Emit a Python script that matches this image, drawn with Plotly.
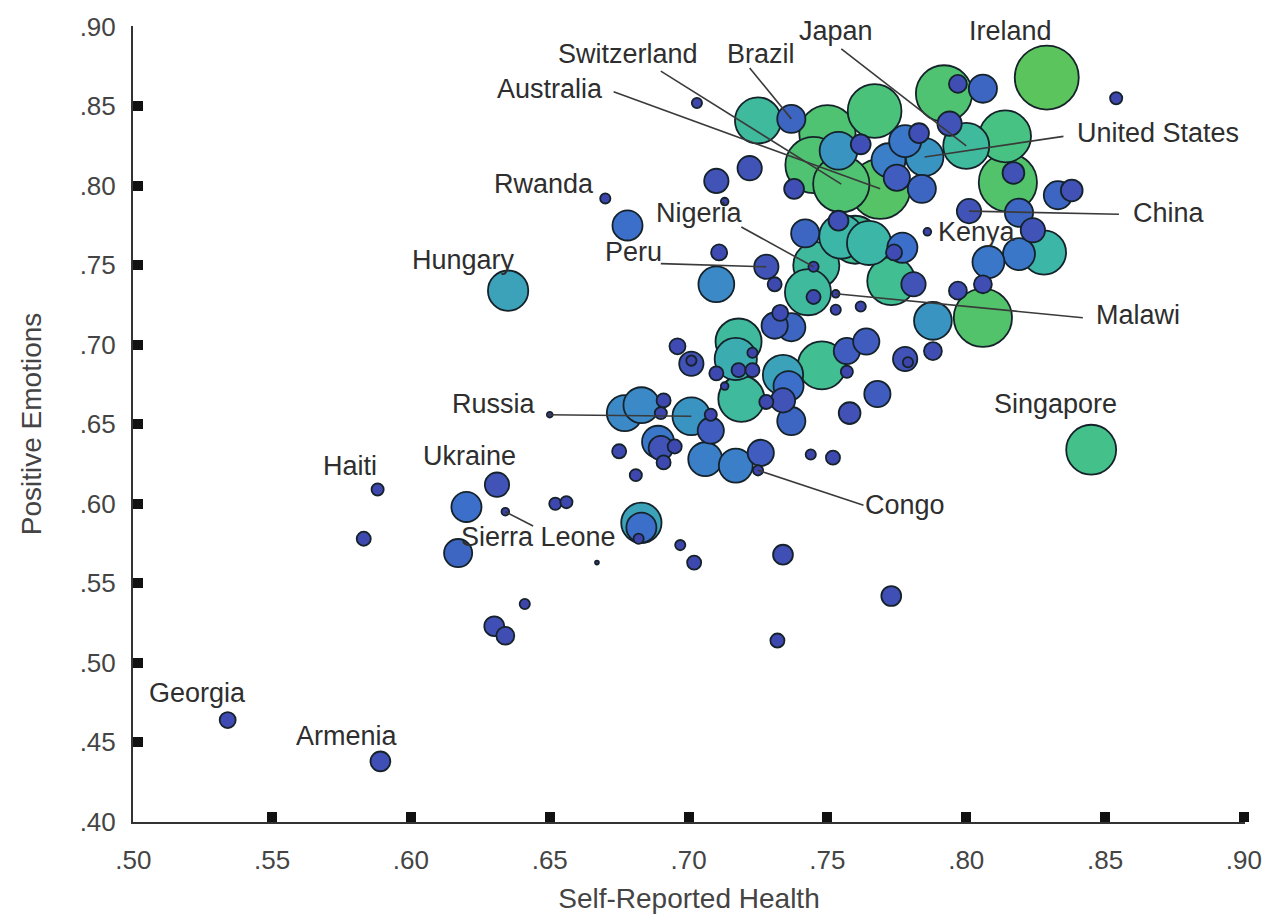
import plotly.graph_objects as go

# ---------------- data ----------------
country = [
    "Georgia", "Armenia", "Haiti", "", "", "", "Ukraine", "Sierra Leone", "", "",
    "", "", "", "", "",
    "", "", "Brazil", "", "", "", "", "", "Switzerland", "Australia",
    "", "", "", "", "", "", "", "", "", "",
    "", "", "Ireland", "", "", "Japan", "", "United States", "", "",
    "", "", "China", "",
    "Rwanda", "", "", "", "Peru", "", "", "", "", "",
    "", "", "Nigeria", "", "", "Malawi", "", "", "", "",
    "", "", "", "", "", "Kenya", "", "", "", "",
    "", "", "", "",
    "", "", "", "", "", "", "", "", "", "",
    "", "", "", "", "", "", "", "", "", "",
    "", "", "", "", "", "", "", "", "", "Russia",
    "", "", "", "", "", "", "", "", "", "",
    "", "Congo", "", "",
    "Singapore", "Hungary", "", "", "", "", "", "", "", "",
]
health = [
    0.534, 0.589, 0.588, 0.583, 0.620, 0.617, 0.631, 0.634, 0.652, 0.656,
    0.641, 0.630, 0.634, 0.667, 0.650,
    0.703, 0.725, 0.737, 0.767, 0.750, 0.754, 0.762, 0.745, 0.755, 0.769,
    0.772, 0.778, 0.783, 0.775, 0.784, 0.722, 0.710, 0.713, 0.738, 0.792,
    0.797, 0.806, 0.829, 0.854, 0.814, 0.800, 0.794, 0.785, 0.815, 0.817,
    0.833, 0.838, 0.801, 0.819,
    0.670, 0.678, 0.711, 0.710, 0.728, 0.731, 0.742, 0.754, 0.755, 0.760,
    0.765, 0.746, 0.745, 0.743, 0.745, 0.753, 0.753, 0.762, 0.733, 0.731,
    0.737, 0.773, 0.774, 0.777, 0.781, 0.786, 0.824, 0.828, 0.819, 0.808,
    0.806, 0.797, 0.788, 0.806,
    0.696, 0.701, 0.701, 0.710, 0.718, 0.717, 0.723, 0.718, 0.723, 0.713,
    0.719, 0.734, 0.736, 0.734, 0.728, 0.737, 0.748, 0.757, 0.764, 0.757,
    0.768, 0.758, 0.778, 0.779, 0.788, 0.677, 0.683, 0.691, 0.690, 0.701,
    0.708, 0.708, 0.689, 0.690, 0.695, 0.691, 0.675, 0.681, 0.706, 0.717,
    0.726, 0.725, 0.744, 0.752,
    0.845, 0.635, 0.683, 0.683, 0.682, 0.697, 0.702, 0.734, 0.773, 0.732,
]
positive = [
    0.464, 0.438, 0.609, 0.578, 0.598, 0.569, 0.612, 0.595, 0.600, 0.601,
    0.537, 0.523, 0.517, 0.563, 0.656,
    0.852, 0.841, 0.842, 0.847, 0.833, 0.822, 0.826, 0.813, 0.801, 0.798,
    0.816, 0.828, 0.833, 0.805, 0.798, 0.811, 0.803, 0.790, 0.798, 0.858,
    0.864, 0.861, 0.868, 0.855, 0.831, 0.825, 0.839, 0.818, 0.802, 0.808,
    0.794, 0.797, 0.784, 0.783,
    0.792, 0.775, 0.758, 0.738, 0.749, 0.738, 0.770, 0.778, 0.768, 0.766,
    0.764, 0.750, 0.749, 0.733, 0.730, 0.732, 0.722, 0.724, 0.720, 0.712,
    0.711, 0.740, 0.758, 0.761, 0.738, 0.771, 0.772, 0.758, 0.757, 0.752,
    0.738, 0.734, 0.715, 0.717,
    0.699, 0.688, 0.690, 0.682, 0.702, 0.691, 0.695, 0.684, 0.684, 0.674,
    0.666, 0.681, 0.674, 0.665, 0.664, 0.652, 0.687, 0.696, 0.702, 0.683,
    0.669, 0.657, 0.691, 0.689, 0.696, 0.657, 0.662, 0.665, 0.657, 0.655,
    0.656, 0.646, 0.639, 0.635, 0.636, 0.626, 0.633, 0.618, 0.628, 0.624,
    0.632, 0.621, 0.631, 0.629,
    0.634, 0.734, 0.588, 0.585, 0.578, 0.574, 0.563, 0.568, 0.542, 0.514,
]
# third variable (0-10 index) shown by bubble size and colour
bubble_value = [
    2.5, 3.1, 1.9, 2.2, 4.7, 4.4, 3.8, 1.2, 1.9, 1.9,
    1.6, 3.1, 2.8, 0.6, 0.9,
    1.6, 7.2, 4.4, 8.4, 8.8, 5.9, 3.1, 8.8, 8.8, 9.4,
    5.3, 5.0, 3.1, 4.1, 4.4, 3.8, 3.8, 1.2, 3.1, 8.8,
    2.8, 4.4, 10.0, 1.9, 8.1, 7.2, 3.8, 5.9, 9.1, 3.4,
    4.4, 3.4, 3.8, 4.4,
    1.6, 4.7, 2.5, 5.6, 3.8, 2.2, 4.4, 3.1, 6.9, 7.5,
    6.9, 7.2, 1.6, 7.2, 2.2, 1.2, 1.6, 1.6, 2.5, 4.1,
    4.4, 7.5, 2.5, 4.7, 3.8, 1.2, 3.8, 6.9, 5.0, 5.0,
    2.8, 2.8, 5.9, 9.1,
    2.5, 3.8, 1.6, 2.2, 7.2, 6.6, 1.6, 2.2, 2.2, 1.2,
    7.2, 6.3, 4.7, 3.8, 2.2, 4.4, 7.5, 4.1, 4.1, 1.9,
    4.1, 3.4, 3.8, 1.6, 2.8, 5.6, 5.6, 2.2, 1.9, 5.9,
    1.9, 4.1, 5.0, 3.8, 2.2, 2.2, 2.2, 1.9, 5.3, 5.3,
    4.1, 1.6, 1.6, 2.2,
    7.8, 6.3, 6.3, 4.7, 1.6, 1.6, 2.2, 3.1, 3.1, 2.2,
]

x_ticks = [0.50, 0.55, 0.60, 0.65, 0.70, 0.75, 0.80, 0.85, 0.90]
x_tick_text = [".50", ".55", ".60", ".65", ".70", ".75", ".80", ".85", ".90"]
y_ticks = [0.40, 0.45, 0.50, 0.55, 0.60, 0.65, 0.70, 0.75, 0.80, 0.85, 0.90]
y_tick_text = [".40", ".45", ".50", ".55", ".60", ".65", ".70", ".75", ".80", ".85", ".90"]

# ---------------- label placement (layout only) ----------------
# name: (text x, text y, leader-line start x, start y)  -- None = no leader line
label_layout = {
    "Switzerland": (0.678, 0.883, 0.690, 0.872),
    "Australia": (0.650, 0.861, 0.673, 0.859),
    "Brazil": (0.726, 0.883, 0.722, 0.874),
    "Japan": (0.753, 0.897, 0.755, 0.886),
    "Ireland": (0.816, 0.897, None, None),
    "United States": (0.869, 0.833, 0.835, 0.831),
    "China": (0.873, 0.783, 0.855, 0.782),
    "Kenya": (0.804, 0.771, None, None),
    "Nigeria": (0.704, 0.783, 0.719, 0.774),
    "Peru": (0.680, 0.758, 0.690, 0.751),
    "Malawi": (0.862, 0.719, 0.842, 0.717),
    "Rwanda": (0.648, 0.801, None, None),
    "Hungary": (0.619, 0.753, None, None),
    "Russia": (0.630, 0.663, 0.649, 0.656),
    "Singapore": (0.832, 0.663, None, None),
    "Haiti": (0.578, 0.624, None, None),
    "Ukraine": (0.621, 0.630, None, None),
    "Sierra Leone": (0.646, 0.579, 0.644, 0.586),
    "Congo": (0.778, 0.599, 0.763, 0.599),
    "Georgia": (0.523, 0.481, None, None),
    "Armenia": (0.577, 0.454, None, None),
}

FONT = "Liberation Sans, Arial, sans-serif"
TEXT_COLOR = "#2e2e2e"

colorscale = [
    [0.00, "#3a3a9c"],
    [0.25, "#3f4bb2"],
    [0.38, "#4253b8"],
    [0.47, "#3b6fc9"],
    [0.54, "#3b82c9"],
    [0.61, "#3a9bbf"],
    [0.69, "#3cb6a6"],
    [0.76, "#42c08f"],
    [0.86, "#4dc374"],
    [1.00, "#5cc45c"],
]

n = min(len(health), len(positive), len(bubble_value), len(country))
order = sorted(range(n), key=lambda i: -bubble_value[i])

fig = go.Figure()
fig.add_trace(go.Scatter(
    x=[health[i] for i in order],
    y=[positive[i] for i in order],
    mode="markers",
    marker=dict(
        size=[bubble_value[i] for i in order],
        sizemode="diameter",
        sizeref=1 / 6.4,
        color=[bubble_value[i] for i in order],
        colorscale=colorscale,
        cmin=0, cmax=10,
        line=dict(color="#15222a", width=1.8),
        opacity=1,
    ),
    text=[country[i] for i in order],
    hoverinfo="text+x+y",
    showlegend=False,
))

shapes = []
annotations = []
for name, (tx, ty, lx, ly) in label_layout.items():
    idx = country.index(name)
    px, py = health[idx], positive[idx]
    if lx is not None:
        shapes.append(dict(type="line", xref="x", yref="y",
                           x0=lx, y0=ly, x1=px, y1=py,
                           line=dict(color="#3a3a3a", width=1.6), layer="above"))
    annotations.append(dict(x=tx, y=ty, xref="x", yref="y", text=name,
                            showarrow=False, xanchor="center", yanchor="middle",
                            font=dict(family=FONT, size=27, color=TEXT_COLOR)))

# the page body adds an 8px offset; the figure is sized to fit inside the window
fig.update_layout(
    width=1260, height=906,
    margin=dict(l=125, r=23, t=18, b=92, autoexpand=False),
    paper_bgcolor="white", plot_bgcolor="white",
    shapes=shapes, annotations=annotations,
    font=dict(family=FONT, color=TEXT_COLOR),
    xaxis=dict(
        range=[0.4999, 0.9004], tickvals=x_ticks, ticktext=x_tick_text,
        ticks="inside", ticklen=10, tickwidth=10, tickcolor="#111111",
        showline=True, linecolor="#333333", linewidth=2,
        showgrid=False, zeroline=False, automargin=False,
        tickfont=dict(family=FONT, size=26, color="#444444"),
        ticklabelstandoff=14, ticklabeloverflow="allow",
        title=dict(text="Self-Reported Health", standoff=18,
                   font=dict(family=FONT, size=28, color="#444444")),
    ),
    yaxis=dict(
        range=[0.3999, 0.9004], tickvals=y_ticks, ticktext=y_tick_text,
        ticks="inside", ticklen=10, tickwidth=10, tickcolor="#111111",
        showline=True, linecolor="#333333", linewidth=2,
        showgrid=False, zeroline=False, automargin=False,
        tickfont=dict(family=FONT, size=26, color="#444444"),
        ticklabelstandoff=10, ticklabeloverflow="allow",
        title=dict(text="Positive Emotions", standoff=30,
                   font=dict(family=FONT, size=28, color="#444444")),
    ),
)

fig.write_html("out.html")
